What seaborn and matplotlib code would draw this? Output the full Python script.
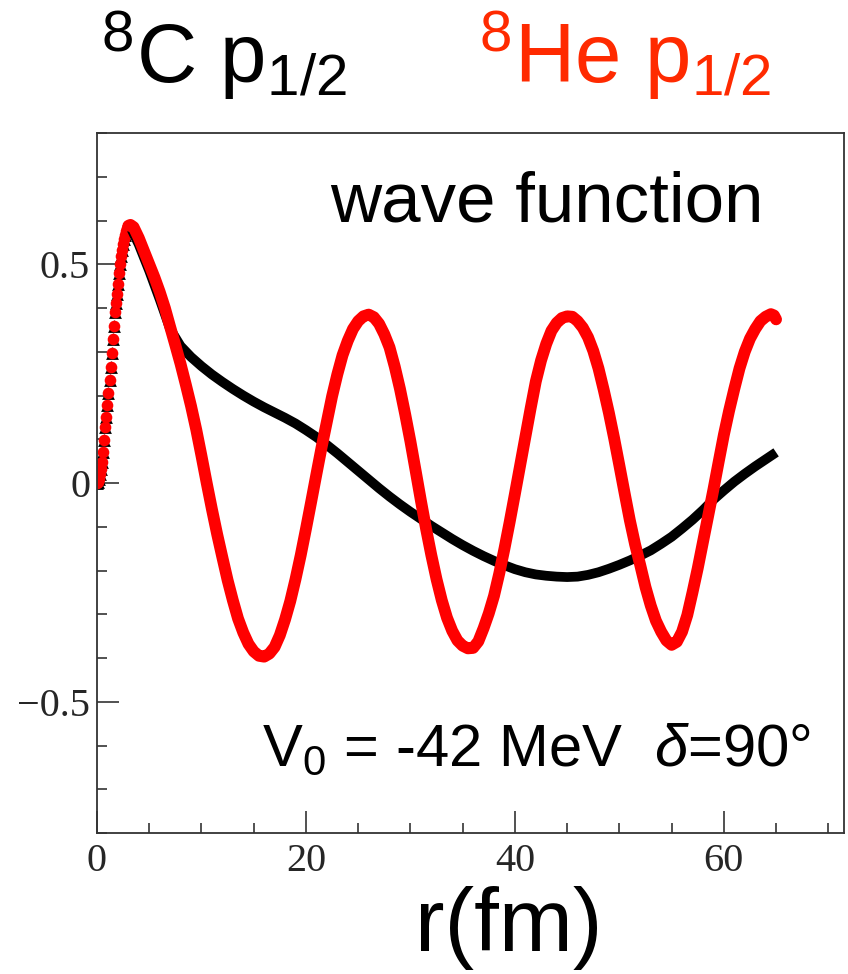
import pandas as pd
import matplotlib
matplotlib.use('Agg')
import matplotlib.pyplot as plt
from matplotlib.ticker import MultipleLocator
import seaborn as sns

# radial grid of the steep rise (dense dots in the figure), both nuclei overlap here
r_rise = [0.0, 0.1, 0.2, 0.3, 0.4, 0.5, 0.6, 0.7, 0.8, 0.9,
          1.0, 1.1, 1.2, 1.3, 1.4, 1.5, 1.6, 1.7, 1.8, 1.9,
          2.0, 2.1, 2.2, 2.3, 2.4, 2.5, 2.6, 2.7, 2.8, 2.9, 3.0]
psi_rise = [0.000, 0.003, 0.010, 0.020, 0.032, 0.048, 0.072, 0.098, 0.128, 0.150,
            0.178, 0.205, 0.235, 0.265, 0.298, 0.330, 0.360, 0.390, 0.412, 0.433,
            0.455, 0.480, 0.500, 0.518, 0.533, 0.546, 0.558, 0.568, 0.577, 0.584, 0.588]

# 8C p1/2 (black)
r_c8 = [3.2, 4, 5, 6, 7, 8, 9, 10, 11, 12, 13, 14, 15, 16, 17, 18, 19, 20,
        21, 22, 23, 24, 25, 26, 27, 28, 29, 30, 31, 32, 33, 34, 35, 36, 37, 38,
        39, 40, 41, 42, 43, 44, 45, 46, 47, 48, 49, 50, 51, 52, 53, 54, 55, 56,
        57, 58, 59, 60, 61, 62, 63, 64, 65]
psi_c8 = [0.585, 0.545, 0.485, 0.420, 0.352, 0.313, 0.288, 0.267, 0.248, 0.231,
          0.215, 0.200, 0.186, 0.173, 0.161, 0.149, 0.136, 0.121, 0.105, 0.087,
          0.068, 0.048, 0.028, 0.008, -0.012, -0.031, -0.049, -0.066, -0.082, -0.098,
          -0.113, -0.128, -0.142, -0.155, -0.167, -0.178, -0.188, -0.197, -0.204, -0.209,
          -0.212, -0.214, -0.215, -0.214, -0.210, -0.204, -0.196, -0.187, -0.177, -0.166,
          -0.154, -0.139, -0.123, -0.104, -0.084, -0.062, -0.038, -0.017, 0.003, 0.021,
          0.038, 0.054, 0.070]

# 8He p1/2 (red)
r_he8 = [3.2, 3.5, 4.0, 4.5, 5.0, 5.5, 6.0, 6.5, 7.0, 7.5,
         8.0, 8.5, 9.0, 9.5, 10.0, 10.5, 11.0, 11.5, 12.0, 12.5,
         13.0, 13.5, 14.0, 14.5, 15.0, 15.5, 16.0, 16.5, 17.0, 17.5,
         18.0, 18.5, 19.0, 19.5, 20.0, 20.5, 21.0, 21.5, 22.0, 22.5,
         23.0, 23.5, 24.0, 24.5, 25.0, 25.5, 26.0, 26.5, 27.0, 27.5,
         28.0, 28.5, 29.0, 29.5, 30.0, 30.5, 31.0, 31.5, 32.0, 32.5,
         33.0, 33.5, 34.0, 34.5, 35.0, 35.5, 36.0, 36.5, 37.0, 37.5,
         38.0, 38.5, 39.0, 39.5, 40.0, 40.5, 41.0, 41.5, 42.0, 42.5,
         43.0, 43.5, 44.0, 44.5, 45.0, 45.5, 46.0, 46.5, 47.0, 47.5,
         48.0, 48.5, 49.0, 49.5, 50.0, 50.5, 51.0, 51.5, 52.0, 52.5,
         53.0, 53.5, 54.0, 54.5, 55.0, 55.5, 56.0, 56.5, 57.0, 57.5,
         58.0, 58.5, 59.0, 59.5, 60.0, 60.5, 61.0, 61.5, 62.0, 62.5,
         63.0, 63.5, 64.0, 64.5, 64.8, 65.0]
psi_he8 = [0.590, 0.585, 0.560, 0.530, 0.500, 0.470, 0.437, 0.400, 0.357, 0.315,
           0.272, 0.225, 0.176, 0.122, 0.062, 0.000, -0.060, -0.117, -0.170, -0.222,
           -0.268, -0.310, -0.342, -0.368, -0.385, -0.395, -0.397, -0.390, -0.375, -0.348,
           -0.312, -0.270, -0.220, -0.165, -0.105, -0.043, 0.020, 0.082, 0.140, 0.198,
           0.248, 0.292, 0.325, 0.352, 0.370, 0.381, 0.385, 0.379, 0.364, 0.340,
           0.310, 0.266, 0.215, 0.157, 0.095, 0.028, -0.040, -0.105, -0.165, -0.220,
           -0.268, -0.308, -0.338, -0.360, -0.372, -0.378, -0.377, -0.362, -0.332, -0.298,
           -0.258, -0.207, -0.150, -0.089, -0.025, 0.040, 0.105, 0.170, 0.232, 0.280,
           0.318, 0.348, 0.366, 0.377, 0.381, 0.380, 0.370, 0.355, 0.333, 0.302,
           0.262, 0.213, 0.160, 0.102, 0.040, -0.023, -0.085, -0.140, -0.188, -0.238,
           -0.280, -0.315, -0.340, -0.360, -0.370, -0.363, -0.340, -0.302, -0.250, -0.195,
           -0.135, -0.075, -0.015, 0.048, 0.110, 0.165, 0.215, 0.262, 0.300, 0.330,
           0.352, 0.370, 0.380, 0.386, 0.383, 0.374]

x_ticks = [0, 20, 40, 60]
x_tick_labels = ['0', '20', '40', '60']
y_ticks = [-0.5, 0, 0.5]
y_tick_labels = ['\u22120.5', '0', '0.5']

rise = pd.DataFrame({'r': r_rise, 'psi': psi_rise})
c8 = pd.concat([rise.tail(1), pd.DataFrame({'r': r_c8, 'psi': psi_c8})])
he8 = pd.concat([rise.tail(1), pd.DataFrame({'r': r_he8, 'psi': psi_he8})])

sns.set_style('white')
plt.rcParams['font.family'] = ['Liberation Sans', 'DejaVu Sans']
plt.rcParams['mathtext.fontset'] = 'custom'
plt.rcParams['mathtext.rm'] = 'Liberation Sans'
plt.rcParams['mathtext.it'] = 'Liberation Sans:italic'
plt.rcParams['mathtext.bf'] = 'Liberation Sans:bold'

W, H = 848, 974
fig = plt.figure(figsize=(W / 100, H / 100), dpi=100)
ax = fig.add_axes([97 / W, 1 - 833 / H, (844 - 97) / W, (833 - 133) / H])

# black first, red drawn on top
sns.lineplot(data=c8, x='r', y='psi', color='black', lw=7, sort=False, ax=ax,
             solid_capstyle='butt', solid_joinstyle='round')
sns.scatterplot(data=rise, x='r', y='psi', marker='^', color='black', s=85,
                linewidth=0, ax=ax)
sns.lineplot(data=he8, x='r', y='psi', color='#ff0000', lw=8.5, sort=False, ax=ax,
             solid_capstyle='round', solid_joinstyle='round')
sns.scatterplot(data=rise, x='r', y='psi', marker='o', color='#ff0000', s=70,
                linewidth=0, ax=ax)

ax.set_xlim(0, 71.5)
ax.set_ylim(-0.8, 0.8)
ax.set_xticks(x_ticks)
ax.set_xticklabels(x_tick_labels)
ax.set_yticks(y_ticks)
ax.set_yticklabels(y_tick_labels)
ax.xaxis.set_minor_locator(MultipleLocator(5))
ax.yaxis.set_minor_locator(MultipleLocator(0.1))
ax.tick_params(which='both', direction='in', bottom=True, left=True,
               top=False, right=False, width=1.1, color='#222222')
ax.tick_params(which='major', length=15.5)
ax.tick_params(which='minor', length=7.5)
ax.tick_params(axis='x', pad=7)
ax.tick_params(axis='y', pad=5)
for lab in ax.get_xticklabels() + ax.get_yticklabels():
    lab.set_fontfamily('Liberation Serif')
    lab.set_fontsize(29)
ax.set_xlabel('')
ax.set_ylabel('')
for sp in ax.spines.values():
    sp.set_linewidth(1.3)
    sp.set_color('#333333')

# titles above the frame
fig.text(224 / W, 1 - 83 / H, r'$^{8}$C p$_{1/2}$', fontsize=60,
         ha='center', va='baseline', color='black')
fig.text(625 / W, 1 - 83 / H, r'$^{8}$He p$_{1/2}$', fontsize=60,
         ha='center', va='baseline', color='#ff2a00')

fig.text(330 / W, 1 - 222 / H, 'wave function', fontsize=51,
         ha='left', va='baseline', color='black')
fig.text(262 / W, 1 - 766 / H, r'V$_0$ = -42 MeV  $\delta$=90°', fontsize=43,
         ha='left', va='baseline', color='black')

fig.text(509 / W, 1 - 928 / H, 'r(fm)', fontsize=64,
         ha='center', va='center', color='black')

plt.savefig('out.png', dpi=100)
